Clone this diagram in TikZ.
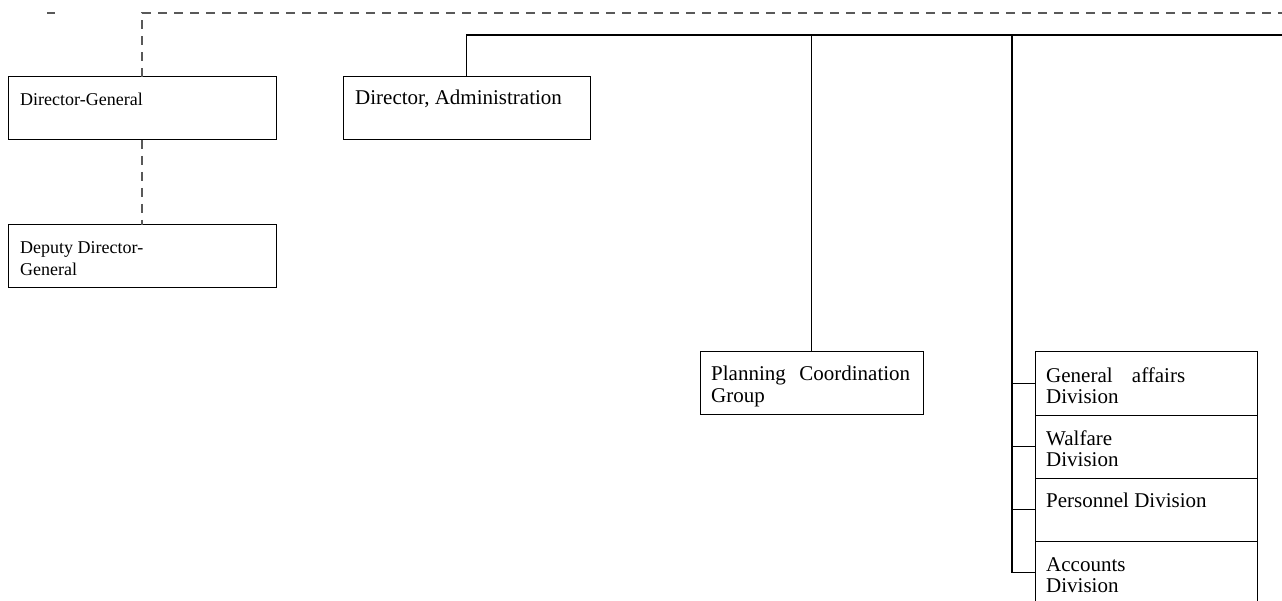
\documentclass[tikz,border=0pt]{standalone}
\usepackage{fontspec}
\setmainfont{Liberation Serif}
\usetikzlibrary{positioning,calc}
\tikzset{
  orgbox/.style={draw, line width=1pt, inner sep=0pt, outer sep=0pt, anchor=north west},
  orgdiv/.style={orgbox, minimum width=222pt, minimum height=63pt},
  orgtext/.style={anchor=base west, inner sep=0pt, align=left, font=\fontsize{21}{21}\selectfont},
  orgtextsmall/.style={orgtext, font=\fontsize{18}{22}\selectfont},
  orgline/.style={line width=1.1pt},
  orgdash/.style={line width=1.1pt, black!65, dash pattern=on 9pt off 7pt},
}

\begin{document}
\begin{tikzpicture}[x=1pt,y=-1pt]
  \clip (0,0) rectangle (1282,601);

  % Director-General and deputy (dashed line of command)
  \node[orgbox, minimum width=268pt, minimum height=63pt] (dg) at (8,77) {};
  \node[orgtextsmall] (dg-text) at ($(dg.north west)+(12,29)$) {Director-General};
  \node[orgbox, minimum width=268pt, minimum height=63pt] (dep) at (8,225) {};
  \node[orgtextsmall] (dep-text) at ($(dep.north west)+(12,51)$) {Deputy Director-\\General};

  % Director, Administration
  \node[orgbox, minimum width=247pt, minimum height=63pt] (da) at (343,77) {};
  \node[orgtext] (da-text) at ($(da.north west)+(12,28)$) {Director, Administration};

  % Planning group
  \node[orgbox, minimum width=223pt, minimum height=62pt] (plan) at (700,352) {};
  \node[orgtext] (plan-text) at ($(plan.north west)+(11,50)$)
    {\makebox[199pt][s]{Planning Coordination}\\Group};

  % Divisions, stacked
  \node[orgdiv] (gad) at (1035,352) {};
  \node[orgdiv, below=0pt of gad] (wel) {};
  \node[orgdiv, below=0pt of wel] (per) {};
  \node[orgdiv, below=0pt of per] (acc) {};
  \node[orgtext] (gad-text) at ($(gad.north west)+(11,51)$)
    {\makebox[139pt][s]{General affairs}\\Division};
  \node[orgtext] (wel-text) at ($(wel.north west)+(11,51)$) {Walfare\\Division};
  \node[orgtext] (per-text) at ($(per.north west)+(11,29)$) {Personnel Division};
  \node[orgtext] (acc-text) at ($(acc.north west)+(11,51)$) {Accounts\\Division};

  % Line ends
  \coordinate (dashright) at (1282,13);
  \coordinate (topright) at (1282,35);
  \coordinate (trunk) at (1012,35);
  \coordinate (stub-l) at (47,13);
  \coordinate (stub-r) at (55,13);

  % Dashed lines
  \draw[orgdash] (stub-l) -- (stub-r);
  \draw[orgdash] (dg.north) |- (dashright);
  \draw[orgdash] (dg.south) -- (dep.north);

  % Solid lines
  \draw[orgline] (da.north) |- (topright);
  \draw[orgline] (plan.north) -- (plan.north |- topright);
  \draw[orgline] (trunk) |- (acc.west);
  \foreach \d in {gad,wel,per}
    \draw[orgline] (\d.west) -- (\d.west -| trunk);
\end{tikzpicture}
\end{document}
